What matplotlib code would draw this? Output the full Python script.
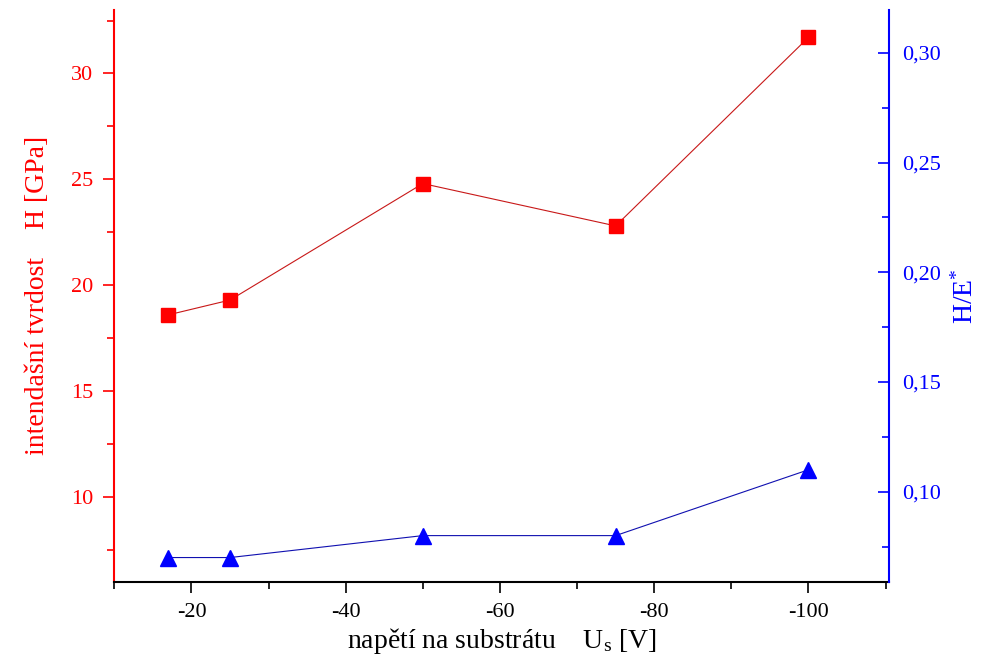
import numpy as np
import matplotlib.pyplot as plt
from matplotlib.ticker import MultipleLocator, FuncFormatter

plt.rcParams['font.family'] = ['Liberation Serif', 'DejaVu Serif']
plt.rcParams['mathtext.fontset'] = 'custom'
plt.rcParams['mathtext.rm'] = 'Liberation Serif'
plt.rcParams['mathtext.it'] = 'Liberation Serif'
plt.rcParams['axes.unicode_minus'] = False

# bias voltage on substrate
U = [-17, -25, -50, -75, -100]
# hardness H [GPa]
H = [18.6, 19.3, 24.8, 22.8, 31.7]
# H/E*
HE = [0.070, 0.070, 0.080, 0.080, 0.110]

fig, ax = plt.subplots(figsize=(9.86, 6.61), dpi=100)
fig.subplots_adjust(left=0.116, right=0.902, bottom=0.12, top=0.985)
ax2 = ax.twinx()

ax.plot(U, H, color='#c81818', lw=0.8, marker='s', ms=10,
        mfc='red', mec='red', zorder=3)
ax2.plot(U, HE, color='#1010b0', lw=0.8, marker='^', ms=11,
         mfc='blue', mec='blue', zorder=3)

ax.set_xlim(-10, -110.5)
ax.set_ylim(6, 33)
ax2.set_ylim(0.059, 0.3196)

ax.xaxis.set_major_locator(MultipleLocator(20))
ax.xaxis.set_minor_locator(MultipleLocator(10))
ax.yaxis.set_major_locator(MultipleLocator(5))
ax.yaxis.set_minor_locator(MultipleLocator(2.5))
ax2.yaxis.set_major_locator(MultipleLocator(0.05))
ax2.yaxis.set_minor_locator(MultipleLocator(0.025))
ax2.yaxis.set_major_formatter(FuncFormatter(lambda v, p: f'{v:.2f}'.replace('.', ',')))

for a in (ax, ax2):
    a.spines['top'].set_visible(False)
ax.spines['right'].set_visible(False)
ax2.spines['left'].set_visible(False)
ax2.spines['bottom'].set_visible(False)
ax.spines['left'].set_color('red')
ax.spines['left'].set_linewidth(1.5)
ax2.spines['right'].set_color('blue')
ax2.spines['right'].set_linewidth(1.5)
ax.spines['bottom'].set_linewidth(1.5)

ax.tick_params(axis='x', which='major', direction='out', length=8, width=1.2,
               labelsize=16, pad=7)
ax.tick_params(axis='x', which='minor', direction='out', length=5, width=1.2)
ax.tick_params(axis='y', which='major', direction='out', length=8, width=1.2,
               colors='red', labelsize=16, pad=7)
ax.tick_params(axis='y', which='minor', direction='out', length=5, width=1.2,
               colors='red')
ax2.tick_params(axis='y', which='major', direction='in', length=8, width=1.2,
                colors='blue', labelsize=16, pad=9)
ax2.tick_params(axis='y', which='minor', direction='in', length=5, width=1.2,
                colors='blue')

ax.set_xlabel('napětí na substrátu    U$_\\mathrm{s}$ [V]', fontsize=20, labelpad=3)
ax.set_ylabel('intendašní tvrdost    H [GPa]', fontsize=20, color='red', labelpad=15)
ax2.set_ylabel('H/E$^{*}$', fontsize=20, color='blue', labelpad=8)

fig.savefig('out.png', dpi=100)
